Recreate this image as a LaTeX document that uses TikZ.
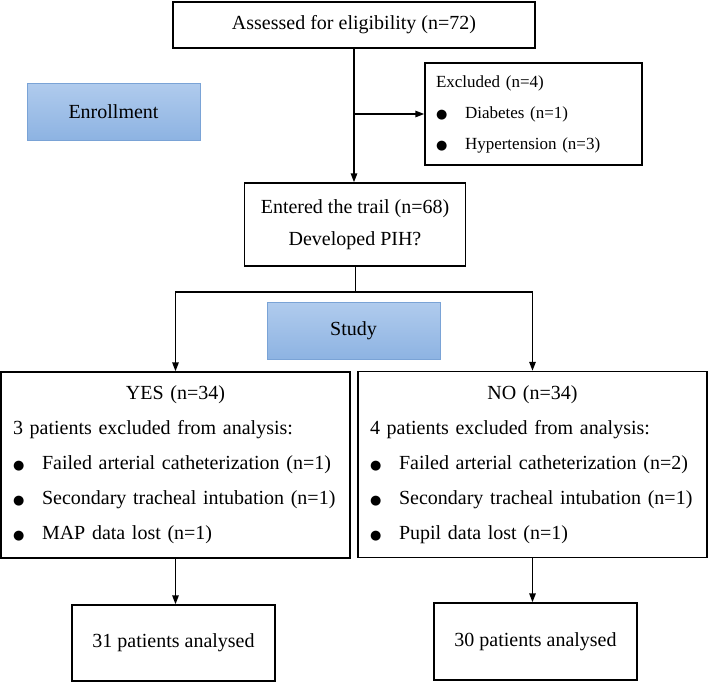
\documentclass[tikz,border=0pt]{standalone}
\usepackage{fontspec}
\setmainfont{Liberation Serif}
\newfontfamily\symfont{DejaVu Sans}
\usetikzlibrary{arrows.meta}
\definecolor{stagetop}{RGB}{176,203,237}
\definecolor{stagebot}{RGB}{141,179,226}
\definecolor{stageedge}{RGB}{122,163,214}
\newcommand{\bul}{\makebox[29pt][l]{{\symfont\fontsize{13}{13}\selectfont ●}}}

\begin{document}
\begin{tikzpicture}[x=1pt,y=-1pt,
	box/.style={draw, line width=1.5pt, fill=white, align=center, font=\fontsize{20}{32}\selectfont},
	listbox/.style={box, align=left, inner xsep=12pt, text width=325pt, minimum height=186pt, font=\fontsize{20}{35}\selectfont},
	stage/.style={draw=stageedge, line width=0.8pt, top color=stagetop, bottom color=stagebot, minimum width=173pt, minimum height=57pt, font=\fontsize{20}{24}\selectfont},
	arr/.style={line width=1.5pt, -{Triangle[length=9pt,width=6.5pt]}}]
	\useasboundingbox (0,0) rectangle (708,683);

	% enrollment
	\node[box, minimum width=362pt, minimum height=46pt] (assess) at (354,25) {Assessed for eligibility (n=72)};
	\node[stage] (enroll) at (113.5,111.5) {Enrollment};
	\node[box, align=left, inner xsep=11pt, text width=195pt, minimum height=102pt, font=\fontsize{17}{31}\selectfont] (excl) at (533.5,114) {Excluded (n=4)\\\bul Diabetes (n=1)\\\bul Hypertension (n=3)};
	\node[box, minimum width=221pt, minimum height=83pt] (trial) at (355,224.5) {Entered the trail (n=68)\\Developed PIH?};

	% study
	\node[stage] (study) at (353.5,331) {Study};
	\node[listbox] (yes) at (175.5,465) {\makebox[\hsize]{YES (n=34)}\\3 patients excluded from analysis:\\\bul Failed arterial catheterization (n=1)\\\bul Secondary tracheal intubation (n=1)\\\bul MAP data lost (n=1)};
	\node[listbox] (no) at (532.5,464.5) {\makebox[\hsize]{NO (n=34)}\\4 patients excluded from analysis:\\\bul Failed arterial catheterization (n=2)\\\bul Secondary tracheal intubation (n=1)\\\bul Pupil data lost (n=1)};
	\node[box, minimum width=203pt, minimum height=76pt] (res1) at (173.5,643) {31 patients analysed};
	\node[box, minimum width=203pt, minimum height=77pt] (res2) at (535.5,641.5) {30 patients analysed};

	\draw[arr] (assess.south) -- (assess.south |- trial.north);
	\draw[arr] (assess.south |- excl.west) -- (excl.west);
	\coordinate (fork) at (355,292);
	\draw[line width=0.8pt] (trial.south) -- (fork);
	\draw[arr] (fork) -| (yes.north);
	\draw[arr] (fork) -| (no.north);
	\draw[arr] (yes.south) -- (yes.south |- res1.north);
	\draw[arr] (no.south) -- (no.south |- res2.north);
\end{tikzpicture}
\end{document}
